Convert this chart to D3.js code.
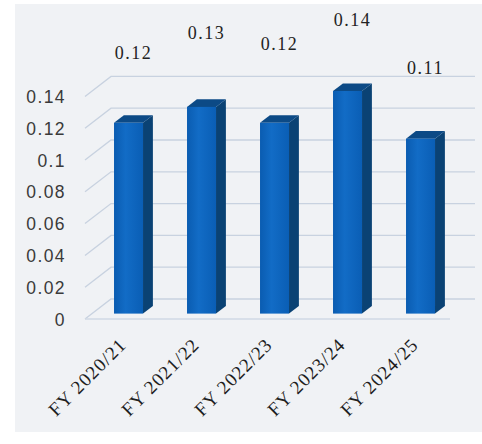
<!DOCTYPE html>
<html>
<head>
<meta charset="utf-8">
<script src="https://cdn.jsdelivr.net/npm/d3@7"></script>
<style>
  html, body { margin: 0; padding: 0; background: #ffffff; }
  svg { display: block; }
</style>
</head>
<body>
<svg id="chart" width="482" height="444"></svg>
<script>
// Data
const categories = ["FY 2020/21", "FY 2021/22", "FY 2022/23", "FY 2023/24", "FY 2024/25"];
const values = [0.12, 0.13, 0.12, 0.14, 0.11];
const yTicks = [0, 0.02, 0.04, 0.06, 0.08, 0.1, 0.12, 0.14];

// Layout
const W = 482, H = 444;
const floorY = 319;              // front edge of the floor
const depth = { dx: 26, dy: -20 }; // front-to-back wall offset
const barFrontT = 0.27, barBackT = 0.65; // depth fractions of bar faces
const labelLift = [56, 60, 65, 57, 57];  // data-label distance above bar top

const svg = d3.select("#chart");

// Panel background
svg.append("rect")
  .attr("x", 15).attr("y", 4).attr("width", W - 15).attr("height", 428)
  .attr("fill", "#f0f2f5");

const x = d3.scaleBand().domain(categories).range([85, 450]).paddingInner(0).paddingOuter(0);
const y = d3.scaleLinear().domain([0, 0.14]).range([floorY, floorY - 222.6]);

const off = t => [depth.dx * t, depth.dy * t];

// Gridlines: diagonal side-wall segment then back-wall horizontal
const grid = svg.append("g").attr("stroke", "#c8d2e0").attr("stroke-width", 1.3).attr("fill", "none");
yTicks.forEach(v => {
  const yf = y(v);
  grid.append("path")
    .attr("d", `M${x.range()[0]},${yf} L${x.range()[0] + depth.dx},${yf + depth.dy} L${475},${yf + depth.dy}`);
});
// Floor front edge
grid.append("line")
  .attr("x1", x.range()[0]).attr("x2", x.range()[1])
  .attr("y1", y(0)).attr("y2", y(0))
  .attr("stroke", "#d0d8e4");

// Y axis labels
const yAxis = d3.axisLeft(y).tickValues(yTicks).tickSize(0).tickPadding(0)
  .tickFormat(d => d3.format("")(+d.toFixed(2)));
const yg = svg.append("g").attr("transform", "translate(66,0)").call(yAxis);
yg.select(".domain").remove();
yg.selectAll("text")
  .attr("font-family", "Liberation Sans, Arial, sans-serif")
  .attr("font-size", 17.5)
  .attr("letter-spacing", "1.4px")
  .attr("fill", "#3a3a3a")
  .attr("dy", "0.35em");

// Bars
const defs = svg.append("defs");
const grad = defs.append("linearGradient").attr("id", "front").attr("x1", 0).attr("x2", 1).attr("y1", 0).attr("y2", 0);
grad.append("stop").attr("offset", "0%").attr("stop-color", "#0a5cb1");
grad.append("stop").attr("offset", "40%").attr("stop-color", "#126cc6");
grad.append("stop").attr("offset", "100%").attr("stop-color", "#0a5eb5");

const bw = 29;
const bars = svg.append("g");
categories.forEach((c, i) => {
  const v = values[i];
  const cx = x(c) + x.bandwidth() / 2;
  const [fdx, fdy] = off(barFrontT);
  const [bdx, bdy] = off(barBackT);
  const x0 = cx - bw / 2 + fdx, x1 = x0 + bw;
  const yb = y(0) + fdy, yt = y(v) + fdy;
  const sdx = bdx - fdx, sdy = bdy - fdy;
  // side face
  bars.append("path")
    .attr("d", `M${x1},${yb} L${x1 + sdx},${yb + sdy} L${x1 + sdx},${yt + sdy} L${x1},${yt} Z`)
    .attr("fill", "#0a4274");
  // top face
  bars.append("path")
    .attr("d", `M${x0},${yt} L${x0 + sdx},${yt + sdy} L${x1 + sdx},${yt + sdy} L${x1},${yt} Z`)
    .attr("fill", "#0c4a86");
  // front face
  bars.append("rect")
    .attr("x", x0).attr("y", yt).attr("width", bw).attr("height", yb - yt)
    .attr("fill", "url(#front)");
  // data label
  svg.append("text")
    .attr("x", cx + fdx + 5)
    .attr("y", yt + sdy - labelLift[i])
    .attr("text-anchor", "middle")
    .attr("font-family", "Liberation Serif, Times New Roman, serif")
    .attr("font-size", 18)
    .attr("letter-spacing", "1.5px")
    .attr("fill", "#222222")
    .text(d3.format(".2f")(v));
});

// Category labels
const xg = svg.append("g");
categories.forEach(c => {
  const cx = x(c) + x.bandwidth() / 2;
  xg.append("text")
    .attr("transform", `translate(${cx + 6},${346}) rotate(-45)`)
    .attr("text-anchor", "end")
    .attr("font-family", "Liberation Serif, Times New Roman, serif")
    .attr("font-size", 19)
    .attr("letter-spacing", "1px")
    .attr("fill", "#1e1e1e")
    .text(c);
});
</script>
</body>
</html>
